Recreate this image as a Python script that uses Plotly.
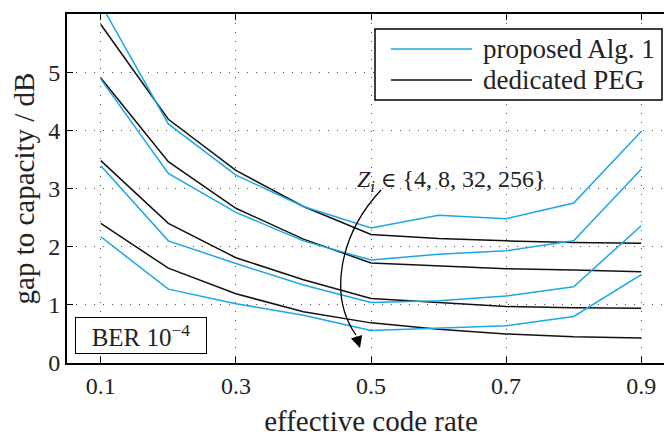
import plotly.graph_objects as go

# ---- data ----
rate = [0.1, 0.2, 0.3, 0.4, 0.5, 0.6, 0.7, 0.8, 0.9]

# proposed Alg. 1 (Z_i = 4, 8, 32, 256)
alg_z4 = [6.17, 4.11, 3.23, 2.69, 2.32, 2.54, 2.48, 2.75, 3.98]
alg_z8 = [4.88, 3.26, 2.59, 2.10, 1.77, 1.87, 1.93, 2.10, 3.33]
alg_z32 = [3.39, 2.10, 1.71, 1.34, 1.04, 1.07, 1.15, 1.31, 2.36]
alg_z256 = [2.17, 1.27, 1.02, 0.82, 0.56, 0.60, 0.64, 0.80, 1.52]

# dedicated PEG (Z_i = 4, 8, 32, 256)
peg_z4 = [5.82, 4.19, 3.31, 2.69, 2.21, 2.14, 2.10, 2.07, 2.06]
peg_z8 = [4.90, 3.46, 2.66, 2.13, 1.72, 1.67, 1.62, 1.60, 1.57]
peg_z32 = [3.48, 2.40, 1.81, 1.43, 1.11, 1.04, 0.97, 0.95, 0.94]
peg_z256 = [2.40, 1.63, 1.19, 0.88, 0.69, 0.58, 0.50, 0.45, 0.43]

xtick_vals = [0.1, 0.3, 0.5, 0.7, 0.9]
xtick_text = ["0.1", "0.3", "0.5", "0.7", "0.9"]
ytick_vals = [0, 1, 2, 3, 4, 5, 6]

BLUE = "#1BA6EA"
BLACK = "#111111"
FONT = "Liberation Serif"
TXT = "#222222"

# page body has an 8px default margin -> compensate in the figure margins
fig = go.Figure()
for s in [peg_z4, peg_z8, peg_z32, peg_z256]:
    fig.add_trace(go.Scatter(x=rate, y=s, mode="lines", name="dedicated PEG",
                             line=dict(color=BLACK, width=1.5), showlegend=False))
for s in [alg_z4, alg_z8, alg_z32, alg_z256]:
    fig.add_trace(go.Scatter(x=rate, y=s, mode="lines", name="proposed Alg. 1",
                             line=dict(color=BLUE, width=1.5), showlegend=False))
# invisible trace for right-side ticks
fig.add_trace(go.Scatter(x=[0.5], y=[0], yaxis="y2", mode="markers",
                         marker=dict(opacity=0), showlegend=False, hoverinfo="skip"))

fig.update_layout(
    width=672, height=438,
    margin=dict(l=59, r=5, t=6, b=83),
    paper_bgcolor="white", plot_bgcolor="white",
    font=dict(family=FONT, size=24, color=TXT),
    xaxis=dict(range=[0.05, 0.95], tickvals=xtick_vals, ticktext=xtick_text,
               showline=True, linecolor="black", linewidth=1.8, mirror="ticks",
               ticks="inside", ticklen=6, tickcolor="black", tickwidth=1,
               showgrid=True, gridcolor="#555", gridwidth=1, griddash="1px,8px",
               zeroline=False, automargin=False,
               title=dict(text="effective code rate", standoff=13)),
    yaxis=dict(range=[0, 6], tickvals=ytick_vals,
               showline=True, linecolor="black", linewidth=1.8, mirror=False,
               ticks="inside", ticklen=6, tickcolor="black", tickwidth=1,
               showgrid=True, gridcolor="#555", gridwidth=1, griddash="1px,8px",
               zeroline=False, automargin=False,
               title=dict(text="gap to capacity / dB", standoff=10)),
    yaxis2=dict(overlaying="y", side="right", matches="y", showline=False,
                ticks="inside", ticklen=8, tickcolor="black", tickwidth=1,
                showticklabels=False, showgrid=False, zeroline=False,
                tickvals=ytick_vals, automargin=False),
)

# curved arrow (decoration)
def px2x(px):
    return 0.1 + (px - 101) / 675.0

def py2y(py):
    return (363 - py) / 58.17

p0 = (px2x(381), py2y(190))
p1 = (px2x(340), py2y(234))
p2 = (px2x(328), py2y(295))
p3 = (px2x(356), py2y(335))
tip = (px2x(360), py2y(348))
fig.add_shape(type="path", xref="x", yref="y",
              path=f"M {p0[0]},{p0[1]} C {p1[0]},{p1[1]} {p2[0]},{p2[1]} {p3[0]},{p3[1]}",
              line=dict(color="black", width=1.3))
fig.add_annotation(x=tip[0], y=tip[1], ax=p3[0], ay=p3[1], axref="x", ayref="y",
                   xref="x", yref="y", text="", showarrow=True,
                   arrowhead=2, arrowsize=1.8, arrowwidth=1.3, arrowcolor="black")

fig.add_annotation(x=px2x(355), y=py2y(181), xref="x", yref="y", xanchor="left",
                   text=("<i>Z<sub>i</sub></i> "
                         "<span style='font-family:DejaVu Serif;font-size:21px'>∈</span>"
                         " {4, 8, 32, 256}"),
                   showarrow=False,
                   font=dict(size=24, family=FONT, color=TXT))

fig.add_annotation(x=px2x(141), y=py2y(335.5), xref="x", yref="y",
                   text="BER 10<sup>−4</sup>", showarrow=False,
                   width=128, height=33, align="center", valign="middle",
                   bordercolor="black", borderwidth=1, borderpad=1, bgcolor="white",
                   font=dict(size=25, family=FONT, color=TXT))

# manual legend (paper coords of the plot area)
def pxx(px):
    return (px - 67) / 608.0

def pxy(py):
    return (363 - py) / 349.0

fig.add_shape(type="rect", xref="paper", yref="paper",
              x0=pxx(375), x1=pxx(662), y0=pxy(100), y1=pxy(29),
              line=dict(color="black", width=1.5), fillcolor="white", layer="above")
fig.add_shape(type="line", xref="paper", yref="paper",
              x0=pxx(391), x1=pxx(472), y0=pxy(49), y1=pxy(49),
              line=dict(color=BLUE, width=1.5), layer="above")
fig.add_shape(type="line", xref="paper", yref="paper",
              x0=pxx(391), x1=pxx(472), y0=pxy(80), y1=pxy(80),
              line=dict(color=BLACK, width=1.5), layer="above")
fig.add_annotation(x=pxx(481), y=pxy(49), xref="paper", yref="paper",
                   xanchor="left", yanchor="middle", text="proposed Alg. 1",
                   showarrow=False, font=dict(size=27, family=FONT, color=TXT))
fig.add_annotation(x=pxx(481), y=pxy(80), xref="paper", yref="paper",
                   xanchor="left", yanchor="middle", text="dedicated PEG",
                   showarrow=False, font=dict(size=27, family=FONT, color=TXT))

fig.write_html("out.html")
